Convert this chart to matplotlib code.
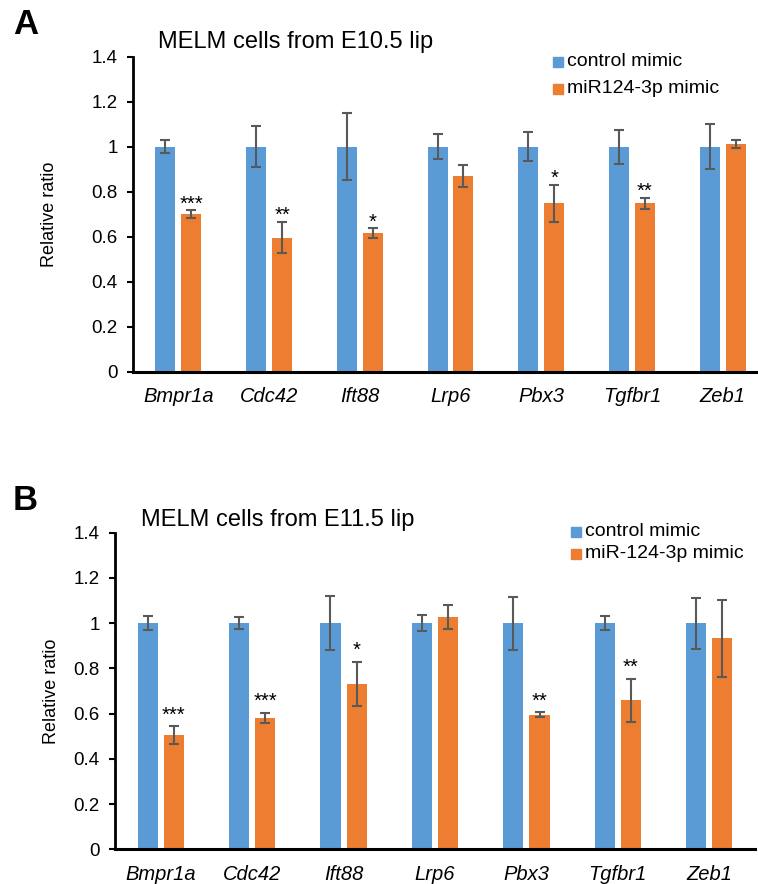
import matplotlib
matplotlib.use("Agg")
import matplotlib.pyplot as plt
import numpy as np

plt.rcParams['font.family'] = ['Liberation Sans', 'DejaVu Sans']

genes = ["Bmpr1a", "Cdc42", "Ift88", "Lrp6", "Pbx3", "Tgfbr1", "Zeb1"]

# Panel A: E10.5
a_ctrl = [1.0, 1.0, 1.0, 1.0, 1.0, 1.0, 1.0]
a_ctrl_err = [0.03, 0.092, 0.15, 0.057, 0.066, 0.075, 0.10]
a_mimic = [0.70, 0.595, 0.615, 0.869, 0.748, 0.748, 1.011]
a_mimic_err = [0.018, 0.07, 0.021, 0.049, 0.083, 0.025, 0.017]
a_stars = ["***", "**", "*", "", "*", "**", ""]

# Panel B: E11.5
b_ctrl = [1.0, 1.0, 1.0, 1.0, 1.0, 1.0, 1.0]
b_ctrl_err = [0.032, 0.026, 0.12, 0.036, 0.117, 0.03, 0.113]
b_mimic = [0.504, 0.582, 0.732, 1.027, 0.594, 0.659, 0.933]
b_mimic_err = [0.04, 0.022, 0.098, 0.052, 0.011, 0.096, 0.17]
b_stars = ["***", "***", "*", "", "**", "**", ""]

yticks = [0, 0.2, 0.4, 0.6, 0.8, 1.0, 1.2, 1.4]
yticklabels = ["0", "0.2", "0.4", "0.6", "0.8", "1", "1.2", "1.4"]

BLUE = "#5B9BD5"
ORANGE = "#ED7D31"
ERR = "#595959"

fig = plt.figure(figsize=(7.58, 8.84), dpi=100)

W, H = 758.0, 884.0


def make_panel(rect, ctrl, ctrl_err, mimic, mimic_err, stars, title, title_xy,
               letter, letter_xy, leg_labels, leg_xy, leg_dy, star_off, ylpad):
    l, b, r, t = rect
    ax = fig.add_axes([l / W, 1 - b / H, (r - l) / W, (b - t) / H])
    x = np.arange(len(genes))
    w = 0.22
    off = 0.143
    ekw = dict(ecolor=ERR, elinewidth=1.5, capsize=3.8, capthick=1.5)
    ax.bar(x - off, ctrl, w, color=BLUE, yerr=ctrl_err, error_kw=ekw, zorder=2)
    ax.bar(x + off, mimic, w, color=ORANGE, yerr=mimic_err, error_kw=ekw, zorder=2)
    for xi, m, e, s in zip(x, mimic, mimic_err, stars):
        if s:
            ax.annotate(s, (xi + off, m + e), xytext=(0, star_off),
                        textcoords="offset points", ha="center", va="baseline",
                        fontsize=14.5)
    ax.set_xlim(-0.5, len(genes) - 0.5)
    ax.set_ylim(0, 1.4)
    ax.set_yticks(yticks)
    ax.set_yticklabels(yticklabels, fontsize=13.5)
    ax.set_xticks(x)
    ax.set_xticklabels(genes, fontsize=14.5, style="italic")
    ax.tick_params(axis="x", length=0, pad=11)
    ax.tick_params(axis="y", length=4, width=1.5, pad=7, direction="out")
    for sp in ["top", "right"]:
        ax.spines[sp].set_visible(False)
    ax.spines["left"].set_linewidth(2)
    ax.spines["bottom"].set_linewidth(2.2)
    ax.set_ylabel("Relative ratio", fontsize=13, labelpad=ylpad)
    fig.text(title_xy[0] / W, 1 - title_xy[1] / H, title, fontsize=17,
             ha="left", va="center")
    fig.text(letter_xy[0] / W, 1 - letter_xy[1] / H, letter, fontsize=25,
             fontweight="bold", ha="left", va="center")
    for i, (lab, col) in enumerate(zip(leg_labels, [BLUE, ORANGE])):
        yy = leg_xy[1] + i * leg_dy
        fig.patches.append(matplotlib.patches.Rectangle(
            ((leg_xy[0]) / W, 1 - (yy + 5) / H), 10 / W, 10 / H,
            transform=fig.transFigure, color=col, figure=fig))
        fig.text((leg_xy[0] + 14) / W, 1 - yy / H, lab, fontsize=14,
                 ha="left", va="center")
    return ax


make_panel((133, 371.5, 768, 56.7), a_ctrl, a_ctrl_err, a_mimic, a_mimic_err,
           a_stars, "MELM cells from E10.5 lip", (158, 42), "A", (13, 25),
           ["control mimic", "miR124-3p mimic"], (553, 61.5), 27, 0.5, 24)
make_panel((115, 849.3, 755, 532.7), b_ctrl, b_ctrl_err, b_mimic, b_mimic_err,
           b_stars, "MELM cells from E11.5 lip", (141, 520), "B", (13, 500),
           ["control mimic", "miR-124-3p mimic"], (571, 531.5), 22, 4, 10)

fig.savefig("out.png", dpi=100)
